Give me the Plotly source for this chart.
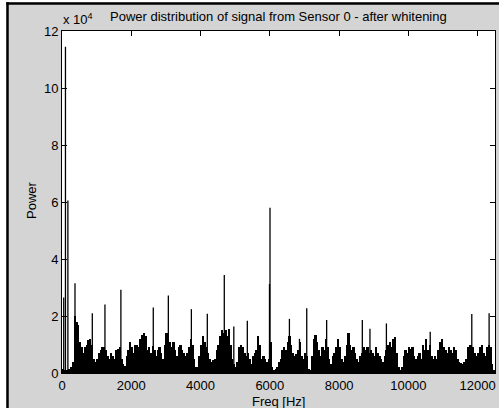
import plotly.graph_objects as go

# Power spectrum after whitening (values in units of 1e4), 50 Hz bins from 0 Hz
bin_width_hz = 50
noise_power = [
    0.15, 0.10, 0.12, 0.10, 0.15, 0.20, 0.40, 2.00, 1.80, 1.70,
    1.10, 0.90, 0.70, 0.90, 1.00, 1.15, 1.20, 1.00, 0.50, 0.40,
    0.50, 0.70, 0.80, 0.90, 0.90, 0.80, 0.60, 0.50, 0.70, 0.60,
    0.50, 0.80, 0.85, 0.90, 0.50, 0.30, 0.25, 0.60, 0.80, 1.10,
    0.90, 0.70, 1.00, 1.00, 0.90, 1.20, 1.35, 1.40, 1.30, 0.80,
    0.90, 0.70, 0.95, 0.80, 0.60, 0.80, 0.90, 0.70, 0.50, 1.00,
    1.40, 1.20, 1.10, 0.90, 1.10, 0.80, 0.60, 0.90, 1.00, 0.80,
    0.70, 0.60, 0.70, 0.90, 1.20, 1.00, 0.50, 0.20, 0.20, 0.60,
    1.00, 1.30, 1.10, 0.90, 0.70, 0.50, 0.40, 0.45, 0.50, 0.80,
    1.00, 1.30, 1.50, 1.40, 1.50, 1.30, 1.55, 1.00, 0.50, 0.30,
    0.20, 0.40, 0.90, 1.00, 0.90, 0.70, 0.60, 0.70, 0.50, 0.30,
    0.60, 0.70, 0.80, 1.30, 1.00, 0.50, 0.60, 0.50, 0.40, 0.50,
    1.10, 0.20, 0.10, 0.15, 0.20, 0.40, 0.50, 0.80, 0.90, 0.80,
    1.10, 1.30, 1.00, 0.70, 0.60, 0.65, 0.80, 1.10, 0.60, 0.50,
    0.70, 0.60, 0.15, 0.10, 0.60, 1.20, 1.35, 1.10, 0.80, 0.60,
    0.90, 0.80, 1.20, 0.90, 0.50, 0.30, 0.60, 0.70, 0.90, 1.20,
    0.90, 0.50, 0.40, 0.60, 1.00, 1.40, 1.00, 0.80, 0.90, 0.70,
    0.50, 0.40, 0.60, 0.70, 0.90, 0.80, 0.90, 0.70, 0.80, 0.70,
    0.60, 0.90, 0.70, 0.60, 0.50, 0.40, 0.60, 0.80, 1.00, 1.10,
    0.90, 1.20, 1.25, 0.70, 0.20, 0.10, 0.20, 0.60, 0.80, 0.70,
    0.90, 0.85, 0.90, 0.60, 0.50, 0.60, 0.70, 0.50, 1.00, 0.80,
    1.20, 0.80, 1.00, 0.60, 0.50, 0.60, 0.50, 0.80, 1.10, 1.20,
    0.90, 0.80, 0.70, 0.90, 0.80, 0.70, 0.90, 0.80, 0.50, 0.40,
    0.35, 0.30, 0.40, 0.50, 0.90, 1.00, 1.00, 0.90, 0.70, 0.60,
    0.70, 0.90, 1.00, 0.70, 0.60, 0.90, 1.00, 0.90, 0.30, 0.10,
]

# Narrow spectral lines (Hz, power in 1e4)
spike_freq = [50, 100, 170, 375, 875, 1240, 1700, 2635, 3070, 3735, 4195,
              4685, 4960, 5350, 5990, 6005, 6565, 6855, 7065, 7640, 8270,
              8670, 8890, 9365, 10630, 11830, 12330]
spike_power = [2.65, 11.45, 6.05, 3.15, 2.10, 2.40, 2.92, 2.30, 2.72, 2.24, 2.08,
               3.44, 1.63, 1.83, 3.12, 5.80, 1.90, 1.20, 2.27, 1.86, 1.40,
               1.86, 1.55, 1.74, 1.45, 2.07, 2.10]

x_ticks = [0, 2000, 4000, 6000, 8000, 10000, 12000]
y_ticks = [0, 2, 4, 6, 8, 10, 12]

title_text = "Power distribution of signal from Sensor 0 - after whitening"
x_label = "Freq [Hz]"
y_label = "Power"

bin_centers = [i * bin_width_hz + bin_width_hz / 2 for i in range(len(noise_power))]

sx, sy = [], []
for f, p in zip(spike_freq, spike_power):
    sx += [f, f, None]
    sy += [0, p, None]

FONT = "Liberation Sans, Arial, sans-serif"
GRAY = "#d4d4d4"

fig = go.Figure()
fig.add_trace(go.Bar(x=bin_centers, y=noise_power, width=bin_width_hz,
                     marker=dict(color="black", line=dict(width=0)),
                     hoverinfo="skip"))
fig.add_trace(go.Scatter(x=sx, y=sy, mode="lines",
                         line=dict(color="black", width=1.3),
                         hoverinfo="skip"))

W, H = 499, 408
L, R, T, B = 62, 4, 31, 35
pw, ph = W - L - R, H - T - B


def px(xp):
    return (xp - L) / pw


def py(yp):
    return (H - B - yp) / ph


fig.update_layout(
    width=W, height=H,
    margin=dict(l=L, r=R, t=T, b=B),
    paper_bgcolor=GRAY,
    plot_bgcolor="white",
    showlegend=False,
    bargap=0,
    font=dict(family=FONT, size=13, color="black"),
    xaxis=dict(range=[0, 12500], tickvals=x_ticks,
               ticktext=[str(v) for v in x_ticks],
               ticks="inside", ticklen=5, tickcolor="black",
               showline=True, linecolor="black", linewidth=1,
               mirror="allticks", showgrid=False, zeroline=False,
               tickfont=dict(size=13)),
    yaxis=dict(range=[0, 12], tickvals=y_ticks,
               ticktext=[str(v) for v in y_ticks],
               ticks="inside", ticklen=5, tickcolor="black",
               showline=True, linecolor="black", linewidth=1,
               mirror="allticks", showgrid=False, zeroline=False,
               tickfont=dict(size=13)),
    shapes=[
        # white strips outside the window border
        dict(type="rect", xref="paper", yref="paper",
             x0=px(-5), x1=px(W + 5), y0=py(2.3), y1=py(-5),
             fillcolor="white", line=dict(width=0), layer="above"),
        dict(type="rect", xref="paper", yref="paper",
             x0=px(-5), x1=px(6.3), y0=py(H + 5), y1=py(-5),
             fillcolor="white", line=dict(width=0), layer="above"),
        # black window border (top and left)
        dict(type="line", xref="paper", yref="paper",
             x0=px(6.3), x1=px(W + 5), y0=py(3.5), y1=py(3.5),
             line=dict(color="black", width=2.5), layer="above"),
        dict(type="line", xref="paper", yref="paper",
             x0=px(7.5), x1=px(7.5), y0=py(2.3), y1=py(H + 5),
             line=dict(color="black", width=2.5), layer="above"),
    ],
    annotations=[
        dict(text=title_text, xref="paper", yref="paper",
             x=px(278), y=py(16), xanchor="center", yanchor="middle",
             showarrow=False, font=dict(size=13)),
        dict(text="x 10<sup>4</sup>", xref="paper", yref="paper",
             x=px(61), y=py(29), xanchor="left", yanchor="bottom",
             showarrow=False, font=dict(size=13)),
        dict(text=x_label, xref="paper", yref="paper",
             x=px(278), y=py(401), xanchor="center", yanchor="middle",
             showarrow=False, font=dict(size=13)),
        dict(text=y_label, xref="paper", yref="paper",
             x=px(32), y=py(200), xanchor="center", yanchor="middle",
             textangle=-90, showarrow=False, font=dict(size=13)),
    ],
)

fig.write_html("out.html")
